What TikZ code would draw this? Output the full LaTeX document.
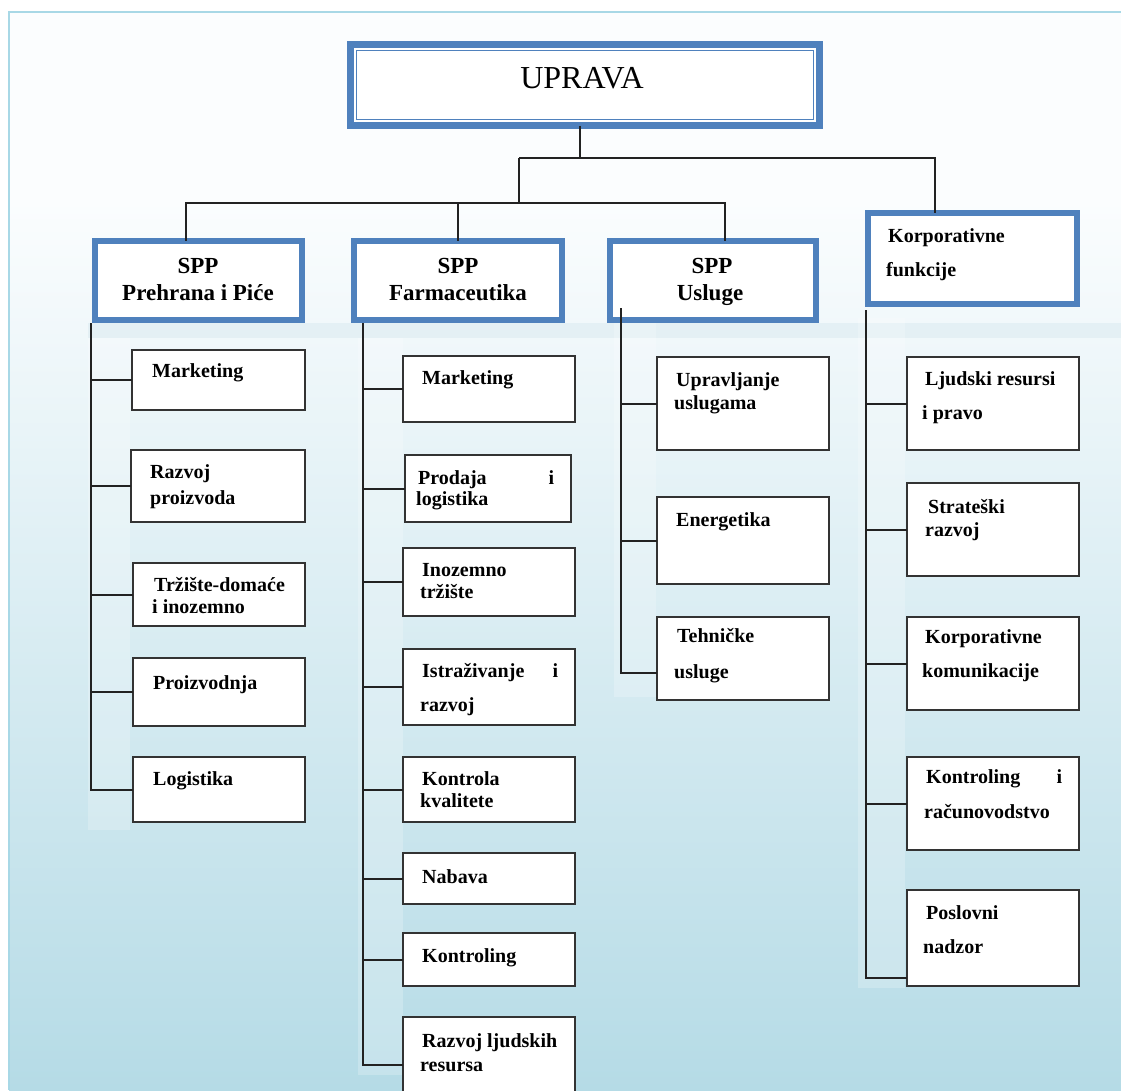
\documentclass[tikz,border=0pt]{standalone}
\usepackage{fontspec}
\setmainfont{Liberation Serif}
\definecolor{ofblue}{HTML}{4F81BD}
\definecolor{boxgray}{HTML}{333333}
\definecolor{linegray}{HTML}{222222}
\definecolor{frameblue}{HTML}{A8D8E6}
\definecolor{bgtop}{HTML}{FBFDFE}
\definecolor{bgbot}{HTML}{B5DBE6}
\definecolor{bandblue}{HTML}{D9EAF0}
\newcommand\mkbox[6][box]{%
  \pgfmathsetmacro\mkbw{#5-#3}\pgfmathsetmacro\mkbh{#6-#4}%
  \pgfmathsetmacro\mkbcx{(#3+#5)/2}\pgfmathsetmacro\mkbcy{(#4+#6)/2}%
  \node[#1, minimum width=\mkbw pt, minimum height=\mkbh pt] (#2) at (\mkbcx,\mkbcy) {};}
\begin{document}
\begin{tikzpicture}[x=1pt,y=-1pt,
  box/.style={draw=boxgray, line width=2pt, fill=white, inner sep=0pt, outer sep=0pt},
  bluebox/.style={draw=ofblue, line width=6pt, fill=white, inner sep=0pt, outer sep=0pt},
  topbox/.style={draw=ofblue, line width=7pt, fill=white, inner sep=0pt, outer sep=0pt},
  conn/.style={draw=linegray, line width=2pt},
  lbl/.style={anchor=base west, inner sep=0pt, font=\bfseries\fontsize{20}{24}\selectfont},
  hd/.style={anchor=base, inner sep=0pt, font=\bfseries\fontsize{23}{27}\selectfont},
  strip/.style={fill=white, opacity=0.22, draw=none}]
\clip (0,0) rectangle (1121,1090);
% background
\fill[white] (0,0) rectangle (1121,1090);
\fill[bgtop] (9,12) rectangle (1121,200);
\shade[top color=bgtop, bottom color=bgbot] (9,200) rectangle (1121,1090);
\fill[bandblue, opacity=0.5] (88,323) rectangle (1121,338);
\fill[strip] (88,338) rectangle (130,830);
\fill[strip] (358,338) rectangle (403,1075);
\fill[strip] (614,310) rectangle (656,697);
\fill[strip] (858,318) rectangle (905,988);
\draw[frameblue, line width=2pt] (9,1090) -- (9,12) -- (1121,12);

% top boxes
\mkbox[topbox]{up}{350.5}{44.5}{819.5}{125.5}
\draw[ofblue, line width=1.5pt] ([shift={(6pt,-6pt)}]up.north west) rectangle ([shift={(-6pt,6pt)}]up.south east);
\node[anchor=base, inner sep=0pt, font=\fontsize{32}{38}\selectfont] (upt) at (582,88) {UPRAVA};

\mkbox[bluebox]{s1}{95}{241}{302}{320}
\mkbox[bluebox]{s2}{354}{241}{562}{320}
\mkbox[bluebox]{s3}{610}{241}{816}{320}
\mkbox[bluebox]{kf}{868}{213}{1077}{304}

% top connectors
\coordinate (j1) at (580,158);
\coordinate (j2) at (519,203);
\draw[conn] (up.south -| j1) -- (j1);
\draw[conn] (j1 -| j2) -| ([xshift=-37.5pt]kf.north);
\draw[conn] (j1 -| j2) -- (j2);
\draw[conn] (j2) -| ([xshift=-12.5pt]s1.north);
\draw[conn] (j2) -| (s2.north);
\draw[conn] (j2) -| ([xshift=12pt]s3.north);

% heading texts
\node[hd] (s1a) at (198,273) {SPP};
\node[hd] (s1b) at (198,300) {Prehrana i Piće};
\node[hd] (s2a) at (458,273) {SPP};
\node[hd] (s2b) at (458,300) {Farmaceutika};
\node[hd] (s3a) at (712,273) {SPP};
\node[hd] (s3b) at (710,300) {Usluge};
\node[lbl] (kfa) at (888,242) {Korporativne};
\node[lbl] (kfb) at (886,276) {funkcije};

% column boxes
\mkbox{m1}{132}{350}{305}{410}
\mkbox{r1}{131}{450}{305}{522}
\mkbox{t1}{133}{563}{305}{626}
\mkbox{p1}{133}{658}{305}{726}
\mkbox{l1}{133}{757}{305}{822}

\mkbox{m2}{403}{356}{575}{422}
\mkbox{pl2}{405}{455}{571}{522}
\mkbox{in2}{403}{548}{575}{616}
\mkbox{ir2}{403}{649}{575}{725}
\mkbox{kk2}{403}{757}{575}{822}
\mkbox{nb2}{403}{853}{575}{904}
\mkbox{kt2}{403}{933}{575}{986}
\mkbox{rl2}{403}{1017}{575}{1110}

\mkbox{uu3}{657}{357}{829}{450}
\mkbox{en3}{657}{497}{829}{584}
\mkbox{th3}{657}{617}{829}{700}

\mkbox{lj4}{907}{357}{1079}{450}
\mkbox{sr4}{907}{483}{1079}{576}
\mkbox{kk4}{907}{617}{1079}{710}
\mkbox{kr4}{907}{757}{1079}{850}
\mkbox{pn4}{907}{890}{1079}{986}

% trunks
\coordinate (c1) at (91,323);
\coordinate (c2) at (363,323);
\coordinate (c3) at (621,308);
\coordinate (c4) at (866,310);
\foreach \b in {m1,r1,t1,p1,l1} {\draw[conn] (c1) |- (\b.west);}
\foreach \b in {m2,pl2,in2,ir2,kk2,nb2,kt2} {\draw[conn] (c2) |- (\b.west);}
\draw[conn] (c2) |- ([yshift=-48pt]rl2.north west);
\foreach \b in {uu3,en3} {\draw[conn] (c3) |- (\b.west);}
\draw[conn] (c3) |- ([yshift=27pt]th3.south west);
\foreach \b in {lj4,sr4,kk4,kr4} {\draw[conn] (c4) |- (\b.west);}
\draw[conn] (c4) |- ([yshift=8pt]pn4.south west);

% column 1 texts
\node[lbl] (m1a) at (152,377) {Marketing};
\node[lbl] (r1a) at (150,478) {Razvoj};
\node[lbl] (r1b) at (150,504) {proizvoda};
\node[lbl] (t1a) at (154,591) {Tržište-domaće};
\node[lbl] (t1b) at (152,613) {i inozemno};
\node[lbl] (p1a) at (153,689) {Proizvodnja};
\node[lbl] (l1a) at (153,785) {Logistika};

% column 2 texts
\node[lbl] (m2a) at (422,384) {Marketing};
\node[lbl] (pl2a) at (418,484) {\makebox[136pt][l]{Prodaja\hfill i}};
\node[lbl] (pl2b) at (416,505) {logistika};
\node[lbl] (in2a) at (422,576) {Inozemno};
\node[lbl] (in2b) at (420,598) {tržište};
\node[lbl] (ir2a) at (422,677) {\makebox[136pt][l]{Istraživanje\hfill i}};
\node[lbl] (ir2b) at (420,711) {razvoj};
\node[lbl] (kk2a) at (422,785) {Kontrola};
\node[lbl] (kk2b) at (420,807) {kvalitete};
\node[lbl] (nb2a) at (422,883) {Nabava};
\node[lbl] (kt2a) at (422,962) {Kontroling};
\node[lbl] (rl2a) at (422,1047) {Razvoj ljudskih};
\node[lbl] (rl2b) at (420,1071) {resursa};

% column 3 texts
\node[lbl] (uu3a) at (676,386) {Upravljanje};
\node[lbl] (uu3b) at (674,409) {uslugama};
\node[lbl] (en3a) at (676,526) {Energetika};
\node[lbl] (th3a) at (677,642) {Tehničke};
\node[lbl] (th3b) at (674,678) {usluge};

% column 4 texts
\node[lbl] (lj4a) at (925,385) {Ljudski resursi};
\node[lbl] (lj4b) at (922,419) {i pravo};
\node[lbl] (sr4a) at (928,513) {Strateški};
\node[lbl] (sr4b) at (925,536) {razvoj};
\node[lbl] (kk4a) at (925,643) {Korporativne};
\node[lbl] (kk4b) at (922,677) {komunikacije};
\node[lbl] (kr4a) at (926,783) {\makebox[136pt][l]{Kontroling\hfill i}};
\node[lbl] (kr4b) at (924,818) {računovodstvo};
\node[lbl] (pn4a) at (926,919) {Poslovni};
\node[lbl] (pn4b) at (923,953) {nadzor};
\end{tikzpicture}
\end{document}
